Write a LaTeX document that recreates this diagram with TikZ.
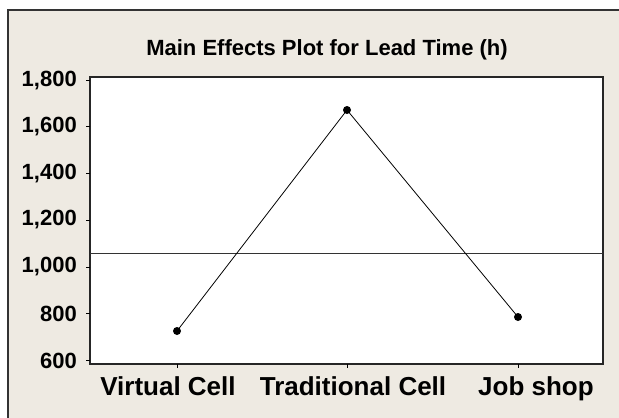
\documentclass[tikz,border=0pt]{standalone}
\usepackage{fontspec}
\setmainfont{Liberation Sans}
\usetikzlibrary{positioning}
\definecolor{panel}{RGB}{238,234,226}

\begin{document}
\begin{tikzpicture}[x=1pt, y=-1pt,
            ylab/.style={anchor=east, font=\bfseries\fontsize{22}{22}\selectfont, inner sep=0pt},
            xlab/.style={anchor=base, font=\bfseries\fontsize{26}{26}\selectfont, inner sep=0pt},
            pt/.style={circle, fill=black, inner sep=0pt, minimum size=8pt},
            tick/.style={black, line width=1pt}]
            \useasboundingbox (0,0) rectangle (619,418);
            \fill[white] (0,0) rectangle (619,418);
            \fill[panel] (8,10) rectangle (619,418);
            \draw[line width=1.2pt, black!80] (8,418) -- (8,10) -- (619,10);
            % title
            \node[anchor=base, font=\bfseries\fontsize{22}{22}\selectfont, inner sep=0pt] (title) at (327,55) {Main Effects Plot for Lead Time (h)};
            % plot area
            \fill[white] (90,77) rectangle (603,364);
            \draw[line width=1.2pt, black!85] (90,77) rectangle (603,364);
            % y axis
            \foreach \y in {360.5, 313.7, 267, 220.2, 173.5, 126.7, 80}
                {\draw[tick] (90,\y) -- (86,\y);}
            \node[ylab] (l600)  at (77,361) {600};
            \node[ylab] (l800)  at (77,314) {800};
            \node[ylab] (l1000) at (77,267) {1,000};
            \node[ylab] (l1200) at (77,220) {1,200};
            \node[ylab] (l1400) at (77,174) {1,400};
            \node[ylab] (l1600) at (77,127) {1,600};
            \node[ylab] (l1800) at (77,81)  {1,800};
            % x axis
            \foreach \x in {177,347,518}
                {\draw[tick] (\x,364) -- (\x,368);}
            \node[xlab] (virtual) at (168,395) {Virtual Cell};
            \node[xlab] (trad)    at (353,395) {Traditional Cell};
            \node[xlab] (job)     at (536,395) {Job shop};
            % mean line
            \coordinate (m0) at (90,253);
            \coordinate (m1) at (603,253);
            \draw[black!80, line width=0.8pt] (m0) -- (m1);
            % means
            \node[pt] (p0) at (177,331) {};
            \node[pt] (p1) at (347,110) {};
            \node[pt] (p2) at (518,317) {};
            \draw[line width=0.8pt] (p0.center) -- (p1.center) -- (p2.center);
        \end{tikzpicture}
\end{document}
